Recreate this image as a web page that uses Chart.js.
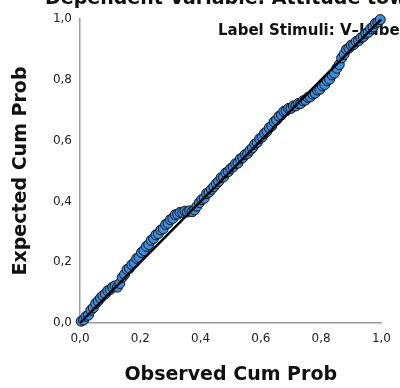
<!DOCTYPE html>
<html>
<head>
<meta charset="utf-8">
<script src="https://cdn.jsdelivr.net/npm/chart.js@4.4.1/dist/chart.umd.min.js"></script>
<style>
  html, body { margin: 0; padding: 0; background: #fff; }
  #wrap { width: 400px; height: 388px; }
</style>
</head>
<body>
<div id="wrap"><canvas id="ppChart" width="400" height="388"></canvas></div>
<script>
// Normal P-P plot of regression standardized residual
const chartTitle = 'Dependent Variable: Attitude toward the Product';
const panelLabel = 'Label Stimuli: V\u2013Label';

const observedCum = [
  0.004, 0.012, 0.020, 0.028, 0.036, 0.044, 0.052, 0.060, 0.068, 0.076,
  0.084, 0.092, 0.100, 0.108, 0.116, 0.124, 0.132, 0.140, 0.148, 0.156,
  0.164, 0.172, 0.180, 0.188, 0.196, 0.204, 0.212, 0.220, 0.228, 0.236,
  0.244, 0.252, 0.260, 0.268, 0.276, 0.284, 0.292, 0.300, 0.308, 0.316,
  0.324, 0.332, 0.340, 0.348, 0.356, 0.364, 0.372, 0.380, 0.388, 0.396,
  0.404, 0.412, 0.420, 0.428, 0.436, 0.444, 0.452, 0.460, 0.468, 0.476,
  0.484, 0.492, 0.500, 0.508, 0.516, 0.524, 0.532, 0.540, 0.548, 0.556,
  0.564, 0.572, 0.580, 0.588, 0.596, 0.604, 0.612, 0.620, 0.628, 0.636,
  0.644, 0.652, 0.660, 0.668, 0.676, 0.684, 0.692, 0.700, 0.708, 0.716,
  0.724, 0.732, 0.740, 0.748, 0.756, 0.764, 0.772, 0.780, 0.788, 0.796,
  0.804, 0.812, 0.820, 0.828, 0.836, 0.844, 0.852, 0.860, 0.868, 0.876,
  0.884, 0.892, 0.900, 0.908, 0.916, 0.924, 0.932, 0.940, 0.948, 0.956,
  0.964, 0.972, 0.980, 0.988, 0.996
];
const expectedCum = [
  0.006, 0.010, 0.022, 0.026, 0.042, 0.050, 0.064, 0.072, 0.082, 0.090,
  0.096, 0.106, 0.110, 0.118, 0.122, 0.118, 0.130, 0.150, 0.160, 0.176,
  0.180, 0.192, 0.198, 0.212, 0.216, 0.232, 0.238, 0.252, 0.258, 0.272,
  0.278, 0.290, 0.294, 0.306, 0.310, 0.324, 0.328, 0.340, 0.344, 0.356,
  0.358, 0.364, 0.364, 0.368, 0.365, 0.369, 0.366, 0.372, 0.384, 0.396,
  0.406, 0.410, 0.426, 0.430, 0.440, 0.448, 0.458, 0.466, 0.478, 0.480,
  0.494, 0.498, 0.508, 0.514, 0.524, 0.526, 0.540, 0.544, 0.554, 0.558,
  0.568, 0.576, 0.588, 0.594, 0.606, 0.612, 0.624, 0.630, 0.642, 0.648,
  0.662, 0.668, 0.680, 0.684, 0.696, 0.698, 0.706, 0.706, 0.714, 0.714,
  0.722, 0.722, 0.731, 0.733, 0.742, 0.744, 0.753, 0.756, 0.766, 0.769,
  0.780, 0.784, 0.797, 0.802, 0.816, 0.822, 0.838, 0.850, 0.872, 0.884,
  0.900, 0.904, 0.914, 0.916, 0.926, 0.928, 0.938, 0.942, 0.952, 0.956,
  0.968, 0.974, 0.986, 0.990, 0.998
];

// diagonal reference line end points
const refLine = [0, 1];
const tickLabels = ['0,0', '0,2', '0,4', '0,6', '0,8', '1,0'];

const fontFamily = "'DejaVu Sans', sans-serif";

// header text sits behind the points
const headerText = {
  id: 'headerText',
  beforeDatasetsDraw(chart) {
    const ctx = chart.ctx;
    ctx.save();
    ctx.fillStyle = '#111';
    ctx.textAlign = 'left';
    ctx.textBaseline = 'alphabetic';
    ctx.font = 'bold 19px ' + fontFamily;
    ctx.fillText(chartTitle, 45, 4);
    ctx.font = 'bold 15px ' + fontFamily;
    ctx.fillText(panelLabel, 218, 35);
    ctx.restore();
  }
};

const ctx = document.getElementById('ppChart').getContext('2d');

new Chart(ctx, {
  type: 'scatter',
  data: {
    datasets: [
      {
        type: 'line',
        data: refLine.map(v => ({ x: v, y: v })),
        borderColor: '#000',
        borderWidth: 2.5,
        pointRadius: 0,
        fill: false,
        order: 0
      },
      {
        data: observedCum.map((v, i) => ({ x: v, y: expectedCum[i] })),
        backgroundColor: '#3a8ee0',
        borderColor: '#111',
        borderWidth: 1,
        pointRadius: 5,
        clip: false,
        order: 1
      }
    ]
  },
  options: {
    responsive: false,
    animation: false,
    layout: { padding: { top: 19, right: 14, left: 0, bottom: 0 } },
    plugins: {
      legend: { display: false },
      tooltip: { enabled: false }
    },
    scales: {
      x: {
        type: 'linear',
        min: 0,
        max: 1,
        afterFit(scale) { scale.height = 65; },
        afterBuildTicks(scale) {
          scale.ticks = tickLabels.map((t, i) => ({ value: i * 0.2 }));
        },
        grid: { display: false, drawTicks: false },
        border: { display: true, color: '#9a9a9a', width: 1.5 },
        ticks: {
          padding: 9,
          color: '#222',
          font: { family: fontFamily, size: 12 },
          maxRotation: 0,
          callback: (v, i) => tickLabels[i]
        },
        title: {
          display: true,
          text: 'Observed Cum Prob',
          color: '#111',
          font: { family: fontFamily, size: 19, weight: 'bold' },
          padding: { top: 0, bottom: 2 }
        }
      },
      y: {
        type: 'linear',
        min: 0,
        max: 1,
        afterFit(scale) { scale.width = 80; },
        afterBuildTicks(scale) {
          scale.ticks = tickLabels.map((t, i) => ({ value: i * 0.2 }));
        },
        grid: { display: false, drawTicks: false },
        border: { display: true, color: '#9a9a9a', width: 1.5 },
        ticks: {
          padding: 8,
          color: '#222',
          font: { family: fontFamily, size: 12 },
          callback: (v, i) => tickLabels[i]
        },
        title: {
          display: true,
          text: 'Expected Cum Prob',
          color: '#111',
          font: { family: fontFamily, size: 19, weight: 'bold' },
          padding: { top: 10, bottom: 0 }
        }
      }
    }
  },
  plugins: [headerText]
});
</script>
</body>
</html>
